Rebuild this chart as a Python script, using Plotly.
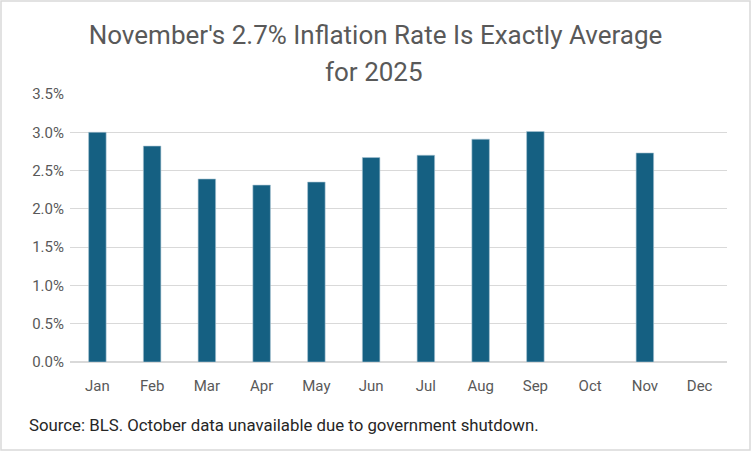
import plotly.graph_objects as go

months = ["Jan", "Feb", "Mar", "Apr", "May", "Jun", "Jul", "Aug", "Sep", "Oct", "Nov", "Dec"]
inflation = [3.00, 2.82, 2.39, 2.31, 2.35, 2.67, 2.70, 2.91, 3.01, None, 2.73, None]
tick_vals = [0, 0.5, 1.0, 1.5, 2.0, 2.5, 3.0, 3.5]
tick_text = ["0.0%", "0.5%", "1.0%", "1.5%", "2.0%", "2.5%", "3.0%", "3.5%"]

title_line1 = "November's 2.7% Inflation Rate Is Exactly Average"
title_line2 = "for 2025"
source_text = "Source: BLS. October data unavailable due to government shutdown."

FONT = "Roboto, Liberation Sans, sans-serif"
W, H = 751, 451
ml, mr, mt, mb = 70, 24, 94, 89
pw, ph = W - ml - mr, H - mt - mb

def px_x(p):
    return (p - ml) / pw

def px_y(p):
    return (H - mb - p) / ph

fig = go.Figure(go.Bar(
    x=months, y=inflation,
    marker=dict(color="#156082", line=dict(color="#a9c4d3", width=0.6)),
    hoverinfo="x+y",
))

fig.update_layout(
    width=W, height=H,
    margin=dict(l=ml, r=mr, t=mt, b=mb),
    paper_bgcolor="white", plot_bgcolor="white",
    bargap=0.68,
    showlegend=False,
    font=dict(family=FONT, color="#595959"),
    title=dict(text=title_line1, x=0.5, xanchor="center", xref="container",
               y=1 - 35 / H, yanchor="middle",
               font=dict(family=FONT, size=26, color="#595959")),
    xaxis=dict(showgrid=False, showline=False, ticks="", tickfont=dict(size=15, color="#595959"),
               range=[-0.5, 11.5], ticklabelstandoff=13),
    yaxis=dict(range=[0, 3.5], tickvals=tick_vals, ticktext=tick_text,
               gridcolor="#d9d9d9", gridwidth=1, zeroline=True, zerolinecolor="#d9d9d9",
               zerolinewidth=1.5, showline=False, ticks="", ticklabelstandoff=5,
               tickfont=dict(size=15, color="#595959")),
    shapes=[dict(type="rect", xref="paper", yref="paper",
                 x0=px_x(1), x1=px_x(750), y0=px_y(450), y1=px_y(1),
                 line=dict(color="#d9d9d9", width=1.5), fillcolor="rgba(0,0,0,0)", layer="below")],
    annotations=[
        dict(text=title_line2, xref="paper", yref="paper",
             x=px_x(374), y=px_y(72), xanchor="center", yanchor="middle",
             showarrow=False, font=dict(family=FONT, size=26, color="#595959")),
        dict(text=source_text, xref="paper", yref="paper",
             x=px_x(27), y=px_y(425), xanchor="left", yanchor="middle",
             showarrow=False, font=dict(family=FONT, size=16.8, color="#262626")),
    ],
)

fig.write_html("out.html", config={"displayModeBar": False},
               post_script="document.body.style.margin='0';")
